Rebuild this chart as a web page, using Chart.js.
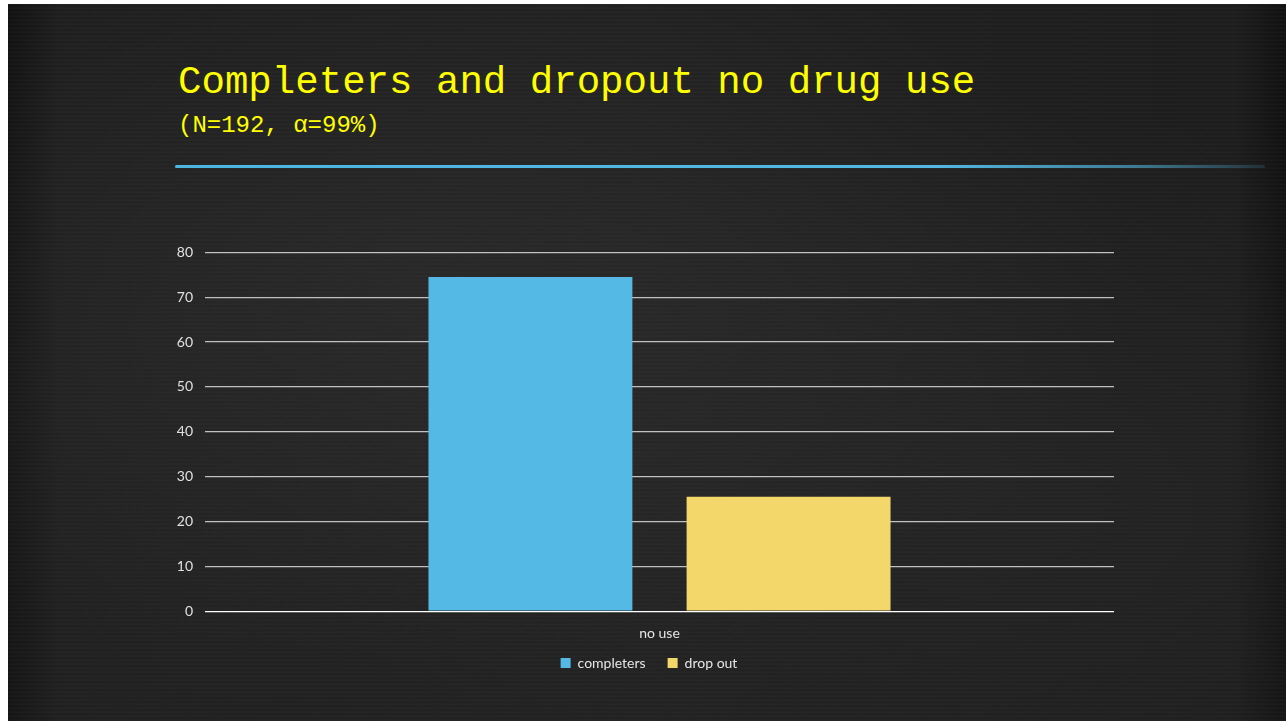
<!DOCTYPE html>
<html>
<head>
<meta charset="utf-8">
<script src="https://cdn.jsdelivr.net/npm/chart.js@4"></script>
<style>
  html, body { margin: 0; padding: 0; background: #ffffff; }
  body { width: 1286px; height: 721px; overflow: hidden; position: relative; }
  /* chalkboard slide */
  #slide {
    position: absolute; left: 8px; top: 4px; width: 1278px; height: 717px;
    background:
      radial-gradient(ellipse at 30% 40%, rgba(60,60,60,0.35), rgba(0,0,0,0) 60%),
      radial-gradient(ellipse at 80% 70%, rgba(50,50,50,0.3), rgba(0,0,0,0) 55%),
      radial-gradient(ellipse at 15% 85%, rgba(45,45,45,0.3), rgba(0,0,0,0) 40%),
      repeating-linear-gradient(0deg, rgba(255,255,255,0.025) 0px, rgba(255,255,255,0.025) 1px, rgba(0,0,0,0) 2px, rgba(0,0,0,0) 4px),
      linear-gradient(90deg, #101010 0%, #1d1d1d 4%, #202020 50%, #1d1d1d 96%, #111111 100%);
    overflow: hidden;
  }
  #title {
    position: absolute; left: 170px; top: 56px; margin: 0;
    font-family: "Liberation Mono", "DejaVu Sans Mono", monospace;
    font-size: 39.1px; font-weight: normal; color: #ffff00; white-space: nowrap;
  }
  #subtitle {
    position: absolute; left: 170px; top: 108px; margin: 0;
    font-family: "Liberation Mono", "DejaVu Sans Mono", monospace;
    font-size: 24px; color: #ffff00; white-space: nowrap;
  }
  #rule {
    position: absolute; left: 167px; top: 161px; width: 1090px; height: 3px;
    background: linear-gradient(90deg, #4cb6e0 0%, #52b8e2 70%, rgba(82,184,226,0.6) 88%, rgba(82,184,226,0.15) 100%);
    border-radius: 2px;
  }
  #wrap { position: absolute; left: 152px; top: 228px; width: 994px; height: 461px; }
</style>
</head>
<body>
<div id="slide">
  <div id="title">Completers and dropout no drug use</div>
  <div id="subtitle">(N=192, α=99%)</div>
  <div id="rule"></div>
  <div id="wrap"><canvas id="drugChart"></canvas></div>
</div>
<script>
// Share of participants with no drug use, by group (percent)
var categories = ['no use'];
var completers = [74.5];
var dropout = [25.5];
var yTicks = [0, 10, 20, 30, 40, 50, 60, 70, 80];

var labelFont = { family: 'Lato', size: 14 };

// nudge the legend row a little to the right of the plot centre
var legendShift = {
    id: 'legendShift',
    afterLayout: function(chart) {
        chart.legend.left += 12;
        chart.legend.right += 12;
    }
};

var ctx = document.getElementById('drugChart').getContext('2d');

var drugChart = new Chart(ctx, {
    type: 'bar',
    data: {
        labels: categories,
        datasets: [
            {
                label: 'completers',
                data: completers,
                backgroundColor: '#55b9e5',
                categoryPercentage: 0.568,
                barPercentage: 0.79
            },
            {
                label: 'drop out',
                data: dropout,
                backgroundColor: '#f4d76b',
                categoryPercentage: 0.568,
                barPercentage: 0.79
            }
        ]
    },
    options: {
        responsive: true,
        maintainAspectRatio: false,
        animation: false,
        layout: { padding: { top: 3, right: 40, bottom: 13, left: 0 } },
        scales: {
            x: {
                grid: { display: false },
                border: { display: false },
                ticks: {
                    color: '#e6e6e6',
                    font: labelFont,
                    padding: 6
                }
            },
            y: {
                min: 0,
                max: 80,
                afterBuildTicks: function(axis) {
                    axis.ticks = yTicks.map(function(v) { return { value: v }; });
                },
                afterFit: function(axis) { axis.width = 45; },
                grid: {
                    color: function(c) {
                        return c.tick.value === 0 ? '#ffffff' : 'rgba(220,220,220,0.85)';
                    },
                    lineWidth: 1.3,
                    drawTicks: false
                },
                border: { display: false },
                ticks: {
                    color: '#e0e0e0',
                    font: labelFont,
                    padding: 12
                }
            }
        },
        plugins: {
            legend: {
                position: 'bottom',
                labels: {
                    color: '#e6e6e6',
                    font: labelFont,
                    boxWidth: 10,
                    boxHeight: 10,
                    padding: 8,
                    // widen the gap between the two legend entries without
                    // changing the vertical padding
                    generateLabels: function(chart) {
                        var items = Chart.defaults.plugins.legend.labels.generateLabels(chart);
                        items.forEach(function(item, i) {
                            if (i < items.length - 1) item.text += '\u2002\u2002';
                        });
                        return items;
                    }
                }
            },
            tooltip: { enabled: false }
        }
    },
    plugins: [legendShift]
});
</script>
</body>
</html>
